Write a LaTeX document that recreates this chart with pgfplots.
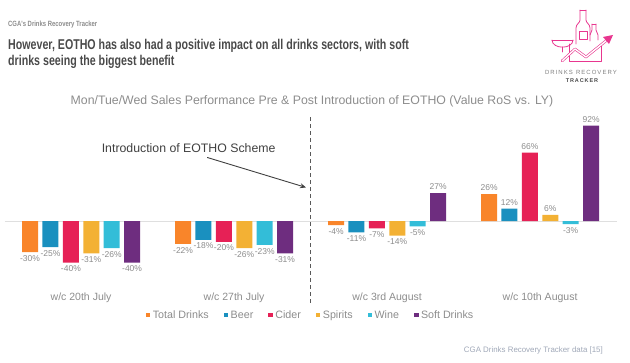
\documentclass[border=0pt]{standalone}
\usepackage{fontspec}
\setmainfont{Liberation Sans}
\newfontfamily\condfont[FakeStretch=0.75]{Liberation Sans}
\newfontfamily\subfont[FakeStretch=0.78]{Liberation Sans}
\usepackage{pgfplots}
\pgfplotsset{compat=1.18}
\usetikzlibrary{arrows.meta}
\definecolor{ctot}{HTML}{F9852A}
\definecolor{cbeer}{HTML}{1A90BF}
\definecolor{ccider}{HTML}{E62156}
\definecolor{cspirits}{HTML}{F3B134}
\definecolor{cwine}{HTML}{33BDD8}
\definecolor{csoft}{HTML}{6E2D7F}
\definecolor{cpink}{HTML}{E8368F}
\definecolor{ctitle}{HTML}{4A4A4A}
\definecolor{clab}{HTML}{8C8C8C}
\definecolor{cfoot}{HTML}{A0A8B8}
\pgfplotsset{myleg/.style={legend image code/.code={\fill[##1] (0pt,-2.2pt) rectangle (4.5pt,2.3pt);}}}
\begin{document}
\begin{tikzpicture}[x=1pt,y=1pt]
\path[use as bounding box] (0,0) rectangle (630,-363);
% header
\node[anchor=base west,inner sep=0,text=clab,font=\subfont\bfseries\fontsize{7.6}{8}\selectfont] at (8,-27) {CGA's Drinks Recovery Tracker};
\node[anchor=base west,inner sep=0,text=ctitle,font=\condfont\bfseries\fontsize{14.2}{16}\selectfont] at (8,-50) {However, EOTHO has also had a positive impact on all drinks sectors, with soft};
\node[anchor=base west,inner sep=0,text=ctitle,font=\condfont\bfseries\fontsize{14.2}{16}\selectfont] at (8,-66) {drinks seeing the biggest benefit};
% logo
\begin{scope}[cpink,line width=0.8pt,line join=round,line cap=round]
\draw (580,-10)--(586,-10);
\draw (580,-10)--(580,-20) .. controls (580,-23) and (576,-24) .. (576,-28) -- (576,-44);
\draw (586,-10)--(586,-20) .. controls (586,-23) and (590,-24) .. (590,-28) -- (590,-41);
\draw (579,-31) rectangle (587,-39);
\draw (592,-24)--(596,-24);
\draw (592,-24)--(592,-30) .. controls (592,-32) and (590,-33) .. (590,-35);
\draw (596,-24)--(596,-30) .. controls (596,-32) and (598,-33) .. (598,-35)--(598,-40);
\draw (552,-40)--(573,-40);
\draw (552,-40) .. controls (552,-45) and (558,-47) .. (561,-47) -- (564,-47) .. controls (567,-47) and (573,-45) .. (573,-40);
\draw (562.5,-47)--(562.5,-52);
\draw (569,-44)--(569,-61)--(601,-61)--(601,-46);
\draw[double=white,double distance=1.4pt,line width=0.6pt] (562,-61)--(575,-49)--(586,-57)--(607,-40);
\fill (613,-35)--(603,-37)--(609,-44)--cycle;
\end{scope}
\node[text=gray,font=\fontsize{6}{7}\selectfont,inner sep=0] at (581,-72) {D\,R\,I\,N\,K\,S\ \ R\,E\,C\,O\,V\,E\,R\,Y};
\node[text=ctitle,font=\bfseries\fontsize{5.5}{6}\selectfont,inner sep=0] at (582,-80.5) {T\,R\,A\,C\,K\,E\,R};
% chart title
\node[text=clab,font=\fontsize{12.3}{14}\selectfont] at (312,-101.5) {Mon/Tue/Wed Sales Performance Pre \& Post Introduction of EOTHO (Value RoS vs. LY)};
% footer
\node[anchor=base east,inner sep=0,text=cfoot,font=\fontsize{7.9}{9}\selectfont] at (603,-353) {CGA Drinks Recovery Tracker data [15]};
\begin{axis}[
  at={(3,-279)},anchor=south west,
  width=612pt,height=172.3pt,scale only axis,
  enlargelimits=false,
  xmin=-0.5,xmax=3.5,ymin=-66,ymax=100,
  ybar=4.4pt,bar width=16pt,
  axis line style={draw=none},
  ytick=\empty,
  xtick={0,1,2,3},
  xticklabels={w/c 20th July,w/c 27th July,w/c 3rd August,w/c 10th August},
  major tick length=0pt,
  xticklabel style={text=clab,font=\fontsize{10.5}{12}\selectfont},
  clip=false,
  nodes near coords={\pgfmathprintnumber[assume math mode=true]{\pgfplotspointmeta}\%},
  nodes near coords style={text=clab,font=\fontsize{8.5}{10}\selectfont,inner sep=3pt},
  legend style={at={(0.5,-0.148)},anchor=center,draw=none,fill=none,
    legend columns=-1,font=\fontsize{10.7}{12}\selectfont,text=clab,
    /tikz/every even column/.append style={column sep=13pt},
    /tikz/every odd column/.append style={column sep=0.5pt}},
]
\draw[gray!25,line width=0.6pt] (axis cs:-0.5,0)--(axis cs:3.5,0);
\addplot[fill=ctot,draw=none,myleg] coordinates {(0,-30) (1,-22) (2,-4) (3,26)};
\addplot[fill=cbeer,draw=none,myleg] coordinates {(0,-25) (1,-18) (2,-11) (3,12)};
\addplot[fill=ccider,draw=none,myleg] coordinates {(0,-40) (1,-20) (2,-7) (3,66)};
\addplot[fill=cspirits,draw=none,myleg] coordinates {(0,-31) (1,-26) (2,-14) (3,6)};
\addplot[fill=cwine,draw=none,myleg] coordinates {(0,-26) (1,-23) (2,-5) (3,-3)};
\addplot[fill=csoft,draw=none,myleg] coordinates {(0,-40) (1,-31) (2,27) (3,92)};
\legend{Total Drinks,Beer,Cider,Spirits,Wine,Soft Drinks}
\draw[black!65,line width=1pt,dash pattern=on 4pt off 3pt] (axis cs:1.5,100)--(axis cs:1.5,-79);
\draw[black!75,line width=0.9pt,-{Stealth[length=6pt,width=5pt]}] (axis cs:0.824,61.3)--(axis cs:1.47,32.4);
\node[text=black!75,font=\fontsize{12.3}{14}\selectfont] at (axis cs:0.703,70.2) {Introduction of EOTHO Scheme};
\end{axis}
\end{tikzpicture}
\end{document}
